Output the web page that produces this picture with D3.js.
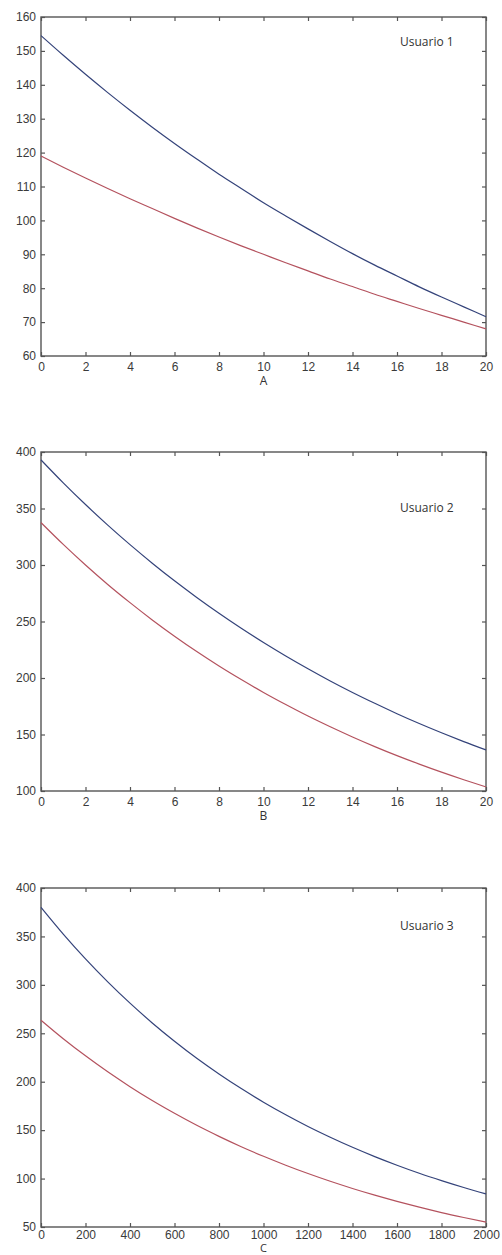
<!DOCTYPE html>
<html>
<head>
<meta charset="utf-8">
<script src="https://cdn.jsdelivr.net/npm/d3@7"></script>
<style>
  body { margin: 0; background: #fff; }
  .tick text { font-family: "Liberation Sans", Arial, sans-serif; font-size: 12px; fill: #3a3a3a; }
  .tick line { stroke: #555; stroke-width: 1.2; }
  .lbl { font-family: "Open Sans", sans-serif; font-size: 12px; fill: #333; }
</style>
</head>
<body>
<div id="my-chart"></div>
<script>

// x values sampled along each curve
var xAB = [0, 1, 2, 3, 4, 5, 6, 7, 8, 9, 10, 11, 12, 13, 14, 15, 16, 17, 18, 19, 20];
var xC = [0, 100, 200, 300, 400, 500, 600, 700, 800, 900, 1000,
          1100, 1200, 1300, 1400, 1500, 1600, 1700, 1800, 1900, 2000];

// Usuario 1
var u1Blue = [154.5, 148.7, 143.1, 137.7, 132.5, 127.5, 122.7, 118.1, 113.6, 109.4, 105.2,
              101.3, 97.5, 93.8, 90.2, 86.8, 83.6, 80.4, 77.4, 74.5, 71.6];
var u1Red = [119.0, 115.7, 112.5, 109.4, 106.4, 103.5, 100.6, 97.8, 95.1, 92.5, 90.0,
             87.5, 85.1, 82.7, 80.5, 78.2, 76.1, 74.0, 72.0, 70.0, 68.0];

// Usuario 2
var u2Blue = [393, 372.7, 353.5, 335.3, 318.0, 301.6, 286.0, 271.3, 257.3, 244.0, 231.4,
              219.5, 208.2, 197.4, 187.2, 177.6, 168.4, 159.7, 151.5, 143.7, 136.3];
var u2Red = [337.5, 318.2, 300.0, 282.8, 266.7, 251.4, 237.0, 223.4, 210.6, 198.6, 187.2,
             176.5, 166.3, 156.8, 147.8, 139.3, 131.3, 123.8, 116.7, 110.0, 103.6];

// Usuario 3
var u3Blue = [380, 352.4, 326.8, 303.1, 281.1, 260.7, 241.8, 224.2, 208.0, 192.9, 178.9,
              165.9, 153.8, 142.7, 132.3, 122.7, 113.8, 105.5, 97.9, 90.8, 84.2];
var u3Red = [263.5, 244.4, 226.7, 210.2, 194.9, 180.6, 167.4, 155.0, 143.6, 132.9, 123.0,
             113.8, 105.2, 97.2, 89.8, 82.9, 76.5, 70.5, 64.9, 59.8, 55.0];

// tick labels
var xTicksAB = [0, 2, 4, 6, 8, 10, 12, 14, 16, 18, 20];
var xTicksC = [0, 200, 400, 600, 800, 1000, 1200, 1400, 1600, 1800, 2000];
var yTicks1 = [60, 70, 80, 90, 100, 110, 120, 130, 140, 150, 160];
var yTicks2 = [100, 150, 200, 250, 300, 350, 400];
var yTicks3 = [50, 100, 150, 200, 250, 300, 350, 400];

var names = ["Usuario 1", "Usuario 2", "Usuario 3"];
var xLabels = ["A", "B", "C"];

// the last panel runs into the page bottom, so its labels sit a bit tighter
var panels = [
  {x: xAB, blue: u1Blue, red: u1Red, xt: xTicksAB, yt: yTicks1, top: 17, nameY: 25, pad: 6, labY: 29, labSize: 12},
  {x: xAB, blue: u2Blue, red: u2Red, xt: xTicksAB, yt: yTicks2, top: 452, nameY: 56, pad: 6, labY: 29, labSize: 12},
  {x: xC, blue: u3Blue, red: u3Red, xt: xTicksC, yt: yTicks3, top: 888, nameY: 38, pad: 3, labY: 25, labSize: 11}
];

var left = 41, width = 445, height = 339;

var svg = d3.select("#my-chart")
    .append("svg")
    .attr("width", 502)
    .attr("height", 1255);

panels.forEach(function(p, i) {
    var g = svg.append("g")
        .attr("transform", "translate(" + left + "," + p.top + ")");

    var x = d3.scaleLinear()
        .domain(d3.extent(p.xt))
        .range([0, width]);
    var y = d3.scaleLinear()
        .domain(d3.extent(p.yt))
        .range([height, 0]);

    // ticks point inward on all four sides, like matlab
    g.append("g")
        .attr("transform", "translate(0," + height + ")")
        .call(d3.axisBottom(x).tickValues(p.xt).tickFormat(d3.format("d")).tickSize(-4).tickPadding(p.pad))
        .call(function(a) { a.select(".domain").remove(); });
    g.append("g")
        .call(d3.axisTop(x).tickValues(p.xt).tickSize(-4).tickFormat(""))
        .call(function(a) { a.select(".domain").remove(); });
    g.append("g")
        .call(d3.axisLeft(y).tickValues(p.yt).tickFormat(d3.format("d")).tickSize(-4).tickPadding(5))
        .call(function(a) { a.select(".domain").remove(); });
    g.append("g")
        .attr("transform", "translate(" + width + ",0)")
        .call(d3.axisRight(y).tickValues(p.yt).tickSize(-4).tickFormat(""))
        .call(function(a) { a.select(".domain").remove(); });

    g.selectAll(".tick text").attr("font-family", null).attr("font-size", null);

    // frame
    g.append("rect")
        .attr("width", width)
        .attr("height", height)
        .attr("fill", "none")
        .attr("stroke", "#555")
        .attr("stroke-width", 1.4);

    var line = d3.line()
        .x(function(d) { return x(d[0]); })
        .y(function(d) { return y(d[1]); })
        .curve(d3.curveMonotoneX);

    g.append("path")
        .datum(d3.zip(p.x, p.blue))
        .attr("fill", "none")
        .attr("stroke", "#34437a")
        .attr("stroke-width", 1.2)
        .attr("d", line);
    g.append("path")
        .datum(d3.zip(p.x, p.red))
        .attr("fill", "none")
        .attr("stroke", "#b4525e")
        .attr("stroke-width", 1.2)
        .attr("d", line);

    g.append("text")
        .attr("class", "lbl")
        .attr("x", 359)
        .attr("y", p.nameY)
        .attr("dy", "0.35em")
        .text(names[i]);

    g.append("text")
        .attr("class", "lbl")
        .attr("x", width / 2)
        .attr("y", height + p.labY)
        .attr("text-anchor", "middle")
        .style("font-size", p.labSize + "px")
        .text(xLabels[i]);
});

</script>
</body>
</html>
